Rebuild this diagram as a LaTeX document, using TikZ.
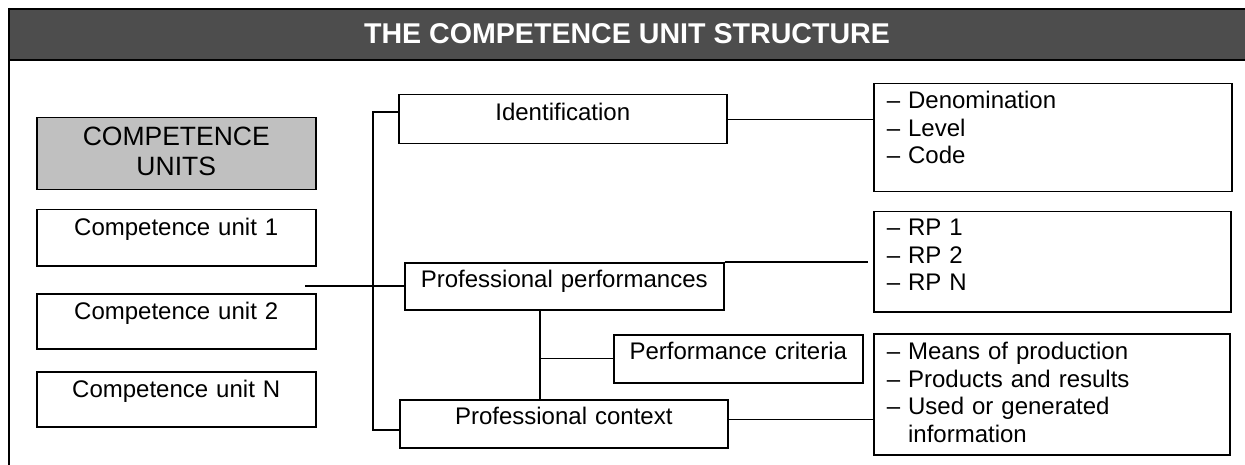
\documentclass[tikz,border=0pt]{standalone}
\usepackage{fontspec}
\setmainfont{Liberation Sans}
\definecolor{hdr}{HTML}{4D4D4D}
\definecolor{unitgray}{HTML}{C0C0C0}
\tikzset{
  box/.style={draw=black, line width=1.5pt, fill=white, anchor=north west,
    inner ysep=0pt, inner xsep=0pt, align=center,
    font=\fontsize{24}{27.5}\selectfont},
  listbox/.style={box, align=left, inner xsep=13pt},
  conn/.style={draw=black, line width=1.2pt},
}
\begin{document}
\begin{tikzpicture}[x=1pt,y=-1pt]
\useasboundingbox (0,0) rectangle (1245,465);
% header
\fill[hdr] (9,9) rectangle (1245,60);
\draw[line width=2.2pt] (9,9) -- (1245,9);
\draw[line width=2.6pt] (9,60) -- (1245,60);
\draw[line width=2.2pt] (9,8) -- (9,465);
\node[anchor=base, text=white, font=\fontsize{28.6}{32}\selectfont\bfseries, inner sep=0pt] (title) at (627,44) {THE COMPETENCE UNIT STRUCTURE};
% left column
\node[box, fill=unitgray, text width=279pt, text height=28pt, text depth=44pt,
      font=\fontsize{26.5}{30}\selectfont] (cuh) at (36,117) {COMPETENCE\\UNITS};
\node[box, text width=279pt, text height=26pt, text depth=30pt] (cu1) at (36,209) {Competence unit 1};
\node[box, text width=279pt, text height=26pt, text depth=29pt] (cu2) at (36,293) {Competence unit 2};
\node[box, text width=279pt, text height=26pt, text depth=29pt] (cun) at (36,371) {Competence unit N};
% middle column
\node[box, text width=328pt, text height=26pt, text depth=23pt] (ident) at (398,94) {Identification};
\node[box, text width=319pt, text height=25pt, text depth=22pt] (pp) at (404,262) {Professional performances};
\node[box, text width=249pt, text height=25pt, text depth=23pt] (crit) at (613,334) {Performance criteria};
\node[box, text width=328pt, text height=25pt, text depth=23pt] (pctx) at (399,399) {Professional context};
% right column
\node[listbox, text width=332pt, text height=25pt, text depth=83pt] (r1) at (873,83) {– Denomination\\– Level\\– Code};
\node[listbox, text width=331pt, text height=24pt, text depth=76pt] (r2) at (873,211) {– RP 1\\– RP 2\\– RP N};
\node[listbox, text width=330pt, text height=26pt, text depth=95pt] (r3) at (873,333) {– Means of production\\– Products and results\\– Used or generated\\\hphantom{–\ }information};
% connectors
\coordinate (cuend) at (305,286);
\coordinate (sp1) at (373,112);
\coordinate (sp2) at (373,430);
\coordinate (vx) at (540,0);
\coordinate (pcout) at ([yshift=4pt]pctx.east);
\coordinate (ppend) at ([xshift=-5pt]r2.west);
\draw[conn] (cuend) -- (pp.west |- cuend);
\draw[conn] (ident.west |- sp1) -- (sp1) -- (sp2) -- (pctx.west |- sp2);
\draw[conn] (ident.east) -- (r1.west |- ident.east);
\draw[conn] (pp.north east) -- (ppend |- pp.north east);
\draw[conn] (pcout) -- (r3.west |- pcout);
\draw[conn] (pp.south -| vx) -- (pctx.north -| vx);
\draw[conn] (crit.west -| vx) -- (crit.west);
\end{tikzpicture}
\end{document}
